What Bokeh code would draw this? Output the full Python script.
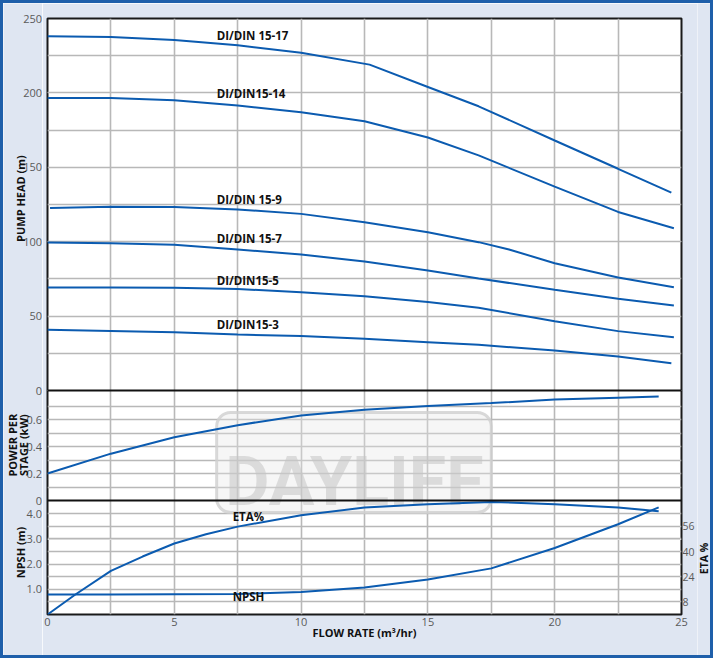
import math
from bokeh.plotting import figure
from bokeh.layouts import row
from bokeh.models import (Range1d, LinearAxis, FixedTicker, Grid, Span, Label,
                          BoxAnnotation)
from bokeh.core.properties import value
from bokeh.embed import file_html
from bokeh.resources import INLINE

# ---------------- data ----------------
x_ticks = [0, 5, 10, 15, 20, 25]
x_grid = [2.5, 5, 7.5, 10, 12.5, 15, 17.5, 20, 22.5]

head_ticks = [0, 50, 100, 150, 200, 250]
head_tick_labels = ["0", "50", "100", "150", "200", "250"]
head_grid = [25, 50, 75, 100, 125, 150, 175, 200, 225]
power_ticks = [0, 0.2, 0.4, 0.6]
power_tick_labels = ["0", "0.2", "0.4", "0.6"]
power_grid = [0.1, 0.2, 0.3, 0.4, 0.5, 0.6, 0.7]
npsh_ticks = [1.0, 2.0, 3.0, 4.0]
npsh_tick_labels = ["1.0", "2.0", "3.0", "4.0"]
npsh_grid = [0.5, 1.0, 1.5, 2.0, 2.5, 3.0, 3.5, 4.0]
eta_ticks = [8, 24, 40, 56]

curve_names = ["DI/DIN 15-17", "DI/DIN15-14", "DI/DIN 15-9",
               "DI/DIN 15-7", "DI/DIN15-5", "DI/DIN15-3"]

flow_15_17 = [0, 2.5, 5, 7.5, 10, 12.7, 15, 17, 20, 22.5, 24.6]
head_15_17 = [238, 237.5, 235.6, 232, 227, 219, 204, 191, 168, 149, 133]

flow_15_14 = [0, 2.5, 5, 7.5, 10, 12.5, 15, 17, 20, 22.5, 24.7]
head_15_14 = [196.5, 196.5, 195, 191.5, 187, 181, 170, 158, 137, 120, 109]

flow_15_9 = [0.1, 2.5, 5, 7.5, 10, 12.5, 15, 17, 18.2, 20, 22.5, 24.7]
head_15_9 = [122.7, 123.5, 123.4, 121.7, 118.7, 113.1, 106.4, 99.7, 94.8, 85.5, 76, 69.4]

flow_15_7 = [0, 2.5, 5, 7.5, 10, 12.5, 15, 17, 20, 22.5, 24.7]
head_15_7 = [99.5, 99, 98, 94.8, 91.4, 86.7, 80.6, 75.3, 67.7, 61.6, 57.1]

flow_15_5 = [0, 2.5, 5, 7.5, 10, 12.5, 15, 17, 20, 22.5, 24.7]
head_15_5 = [69.3, 69.3, 69, 68.2, 66.1, 63.4, 59.4, 55.6, 46.6, 39.9, 35.8]

flow_15_3 = [0, 2.5, 5, 7.5, 10, 12.5, 15, 17, 20, 22.5, 24.6]
head_15_3 = [40.9, 40, 39.1, 37.6, 36.7, 34.7, 32.5, 30.7, 26.9, 22.8, 18.3]

label_flow = [6.67, 6.67, 6.67, 6.67, 6.67, 6.67]
label_head = [238.8, 199.6, 128.5, 102.0, 73.9, 44.4]

power_flow = [0, 2.5, 5, 7.5, 10, 12.5, 15, 17.5, 20, 22.5, 24.1]
power_kw = [0.2, 0.347, 0.468, 0.558, 0.63, 0.673, 0.70, 0.722, 0.748, 0.762, 0.77]

npsh_flow = [0, 2.5, 5, 7.5, 10, 12.5, 15, 17.5, 20, 22.5, 24.1]
npsh_m = [0.79, 0.79, 0.8, 0.81, 0.89, 1.07, 1.39, 1.83, 2.64, 3.58, 4.25]

eta_flow = [0, 1.1, 2.5, 3.75, 5, 6.25, 7.5, 10, 12.5, 15, 17.5, 20, 22.5, 24.1]
eta_pct = [0, 12.7, 27.7, 36.8, 45.1, 51.0, 55.8, 63.0, 67.9, 70.0, 71.5, 70.0, 67.9, 65.6]

# ---------------- layout (pixels) ----------------
TOP_PX, MID_PX, BOT_PX = 372, 110, 114          # panel heights inside the frame
BORDER_TOP, BORDER_BOTTOM = 15, 41
HEIGHT = TOP_PX + MID_PX + BOT_PX + BORDER_TOP + BORDER_BOTTOM
LEFT_W, MAIN_W, RIGHT_W = 39, 655, 13
HEAD_MAX = 250.0
POWER_MAX = 0.815
NPSH_MAX = 4.524
ETA_PER_NPSH = 16.0

head_scale = TOP_PX / HEAD_MAX
power_scale = MID_PX / POWER_MAX
npsh_scale = BOT_PX / NPSH_MAX

head_lo, head_hi = -(MID_PX + BOT_PX) / head_scale, HEAD_MAX
power_lo, power_hi = -BOT_PX / power_scale, POWER_MAX + TOP_PX / power_scale
npsh_lo, npsh_hi = 0.0, NPSH_MAX + (TOP_PX + MID_PX) / npsh_scale


def full(lo, hi, scale):
    # same mapping, stretched to the whole canvas height (for the side strips)
    return Range1d(lo - BORDER_BOTTOM / scale, hi + BORDER_TOP / scale)


BLUE = "#0b5bb0"
GRID = "#b8b8b8"
TICK_COLOR = "#5a5a5a"
BG = "#dfe6f2"
FONT = "Open Sans"

# ---------------- main plot ----------------
p = figure(width=MAIN_W, height=HEIGHT, x_range=Range1d(0, 25),
           y_range=Range1d(head_lo, head_hi), y_axis_location=None,
           output_backend="svg", toolbar_location=None, frame_align=False,
           min_border_left=5, min_border_right=13,
           min_border_top=BORDER_TOP, min_border_bottom=BORDER_BOTTOM,
           background_fill_color="white", border_fill_color=BG,
           outline_line_color="#1a1a1a", outline_line_width=2)
p.extra_y_ranges = {"power": Range1d(power_lo, power_hi),
                    "npsh": Range1d(npsh_lo, npsh_hi),
                    "eta": Range1d(npsh_lo * ETA_PER_NPSH, npsh_hi * ETA_PER_NPSH)}

# grids
p.xgrid.ticker = FixedTicker(ticks=x_grid)
p.xgrid.grid_line_color = GRID
p.xgrid.grid_line_width = 1.6
p.add_layout(Grid(dimension=1, ticker=FixedTicker(ticks=head_grid),
                  grid_line_color=GRID, grid_line_width=1.6))
p.add_layout(Grid(dimension=1, ticker=FixedTicker(ticks=power_grid), y_range_name="power",
                  grid_line_color=GRID, grid_line_width=1.6))
p.add_layout(Grid(dimension=1, ticker=FixedTicker(ticks=npsh_grid), y_range_name="npsh",
                  grid_line_color=GRID, grid_line_width=1.6))

# watermark
p.add_layout(BoxAnnotation(left=6.67, right=17.5, top=0.652, bottom=-0.089,
                           y_range_name="power", border_radius=14,
                           fill_color="#e4e4e4", fill_alpha=0.35,
                           line_color="#cfcfcf", line_width=3, line_alpha=0.8,
                           level="underlay"))
p.add_layout(Label(x=12.1, y=0.14, y_range_name="power", text="DAYLIFF",
                   text_align="center", text_baseline="alphabetic",
                   text_font="Roboto", text_font_style="bold",
                   text_font_size="68px", text_color="#c4c4c4", text_alpha=0.55,
                   level="underlay"))

# panel separators
p.add_layout(Span(location=0, dimension="width", line_color="#111111", line_width=2))
p.add_layout(Span(location=0, dimension="width", y_range_name="power",
                  line_color="#111111", line_width=2))

# curves
for fx, hy in [(flow_15_17, head_15_17), (flow_15_14, head_15_14), (flow_15_9, head_15_9),
               (flow_15_7, head_15_7), (flow_15_5, head_15_5), (flow_15_3, head_15_3)]:
    p.line(fx, hy, line_color=BLUE, line_width=2)
p.line(power_flow, power_kw, y_range_name="power", line_color=BLUE, line_width=2)
p.line(npsh_flow, npsh_m, y_range_name="npsh", line_color=BLUE, line_width=2)
p.line(eta_flow, eta_pct, y_range_name="eta", line_color=BLUE, line_width=2)

# curve labels
lbl = dict(text_font=value(FONT), text_font_style="bold", text_font_size="11.5px",
           text_color="#111111", text_baseline="middle", text_align="left")
p.text(x=label_flow, y=label_head, text=curve_names, **lbl)
p.text(x=[7.3], y=[3.9], text=["ETA%"], y_range_name="npsh", **lbl)
p.text(x=[7.3], y=[0.70], text=["NPSH"], y_range_name="npsh", **lbl)


def style_axis(ax):
    ax.axis_line_color = None
    ax.major_tick_line_color = None
    ax.minor_tick_line_color = None
    ax.major_tick_out = 0
    ax.major_label_text_font = FONT
    ax.major_label_text_font_size = "11px"
    ax.major_label_text_color = TICK_COLOR
    ax.major_label_standoff = 2


p.xaxis.ticker = FixedTicker(ticks=x_ticks)
style_axis(p.xaxis[0])
p.xaxis.major_label_standoff = 3
p.xaxis.axis_label = "FLOW RATE (m\u00b3/hr)"
p.xaxis.axis_label_text_font = FONT
p.xaxis.axis_label_text_font_style = "bold"
p.xaxis.axis_label_text_font_size = "11px"
p.xaxis.axis_label_text_color = "#111111"
p.xaxis.axis_label_standoff = -4

eta_axis = LinearAxis(y_range_name="eta", ticker=FixedTicker(ticks=eta_ticks))
style_axis(eta_axis)
eta_axis.major_label_text_font_size = "10.5px"
eta_axis.major_label_standoff = 1
p.add_layout(eta_axis, "right")

# ---------------- left strip: y tick labels and titles ----------------
left = figure(width=LEFT_W, height=HEIGHT, x_range=Range1d(0, LEFT_W),
              y_range=full(head_lo, head_hi, head_scale),
              x_axis_location=None, y_axis_location=None, frame_align=False,
              output_backend="svg", toolbar_location=None,
              min_border=0, min_border_left=0, min_border_right=0,
              min_border_top=0, min_border_bottom=0, outline_line_color=None,
              background_fill_color=BG, border_fill_color=BG)
left.extra_y_ranges = {"power": full(power_lo, power_hi, power_scale),
                       "npsh": full(npsh_lo, npsh_hi, npsh_scale)}
left.grid.visible = False

tick_kw = dict(text_font=value(FONT), text_font_size="11px", text_color=TICK_COLOR,
               text_align="right", text_baseline="middle")
left.text(x=[LEFT_W - 0.5] * len(head_ticks), y=head_ticks, text=head_tick_labels, **tick_kw)
left.text(x=[LEFT_W - 0.5] * len(power_ticks), y=power_ticks, text=power_tick_labels,
          y_range_name="power", **tick_kw)
left.text(x=[LEFT_W - 0.5] * len(npsh_ticks), y=npsh_ticks, text=npsh_tick_labels,
          y_range_name="npsh", **tick_kw)

title_kw = dict(text_font=value(FONT), text_font_style="bold", text_font_size="11px",
                text_color="#111111", angle=math.pi / 2, text_align="center",
                text_baseline="middle")
left.text(x=[17], y=[129], text=["PUMP HEAD (m)"], **title_kw)
left.text(x=[8.5], y=[0.41], text=["POWER PER"], y_range_name="power", **title_kw)
left.text(x=[19.5], y=[0.41], text=["STAGE (kW)"], y_range_name="power", **title_kw)
left.text(x=[16.5], y=[2.46], text=["NPSH (m)"], y_range_name="npsh", **title_kw)

# ---------------- right strip: ETA title ----------------
right = figure(width=RIGHT_W, height=HEIGHT, x_range=Range1d(0, RIGHT_W),
               y_range=full(npsh_lo * ETA_PER_NPSH, npsh_hi * ETA_PER_NPSH,
                            npsh_scale / ETA_PER_NPSH),
               x_axis_location=None, y_axis_location=None, frame_align=False,
               output_backend="svg", toolbar_location=None,
               min_border=0, min_border_left=0, min_border_right=0,
               min_border_top=0, min_border_bottom=0, outline_line_color=None,
               background_fill_color=BG, border_fill_color=BG)
right.grid.visible = False
right.text(x=[6.5], y=[35.6], text=["ETA %"],
           **dict(title_kw, text_font_size="10.5px"))

layout = row(left, p, right, styles={"border": "3px solid #1e5faa"})

open("out.html", "w").write(file_html(layout, INLINE))
